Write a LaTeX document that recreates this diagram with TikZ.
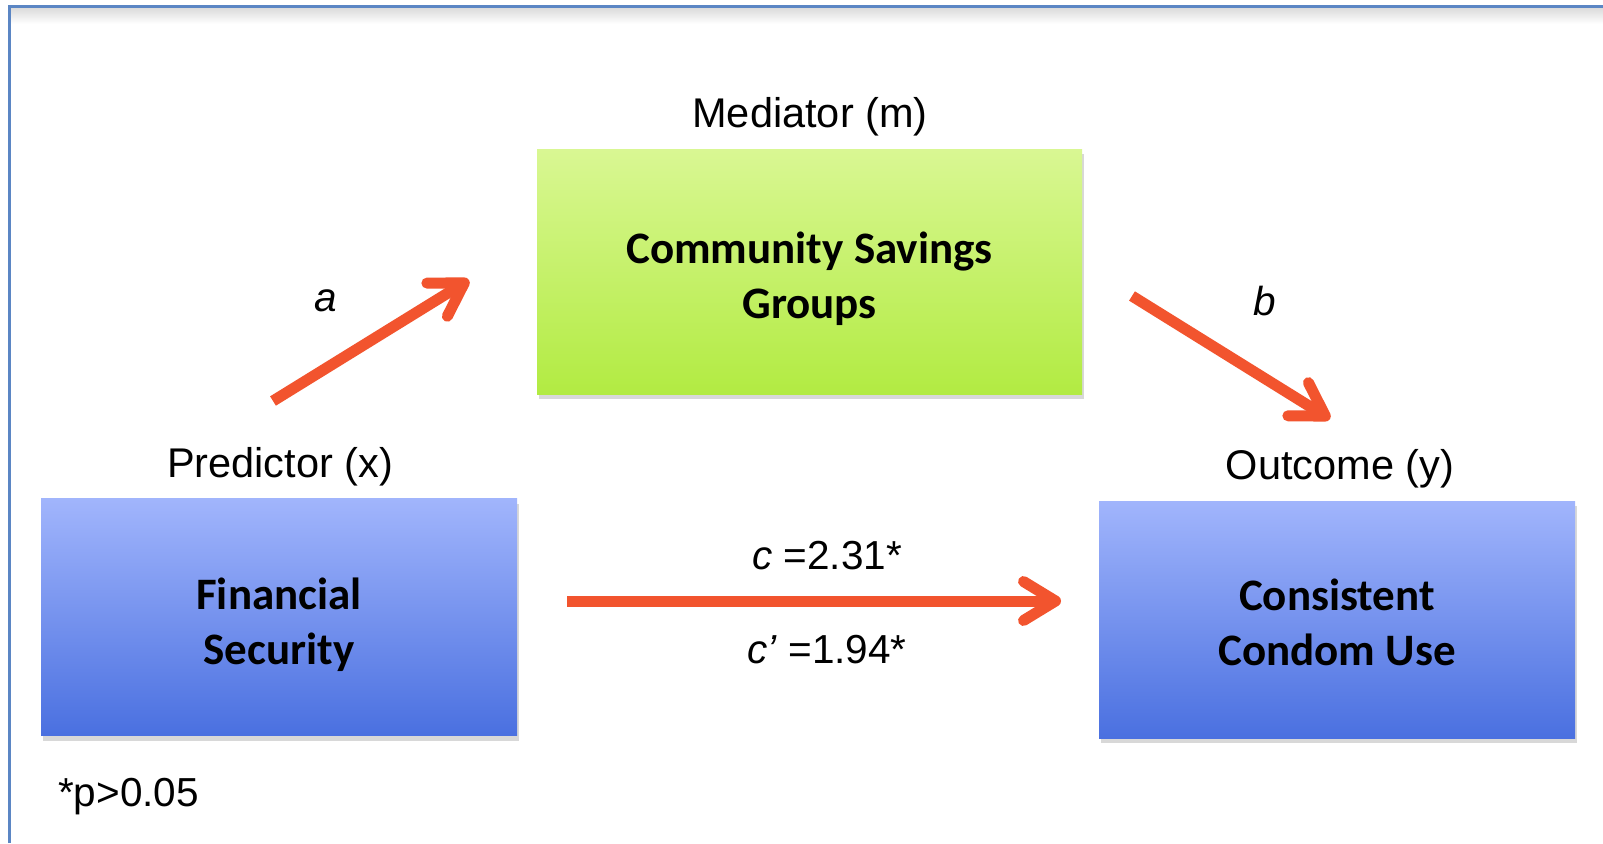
\documentclass[tikz,border=0pt]{standalone}
\usepackage{fontspec}
\setmainfont{Liberation Sans}
\newfontfamily\boxfont{Carlito}
\usetikzlibrary{arrows.meta,shadows}

\definecolor{arrowred}{HTML}{F2542E}
\definecolor{greentop}{HTML}{D9F793}
\definecolor{greenbot}{HTML}{B2EB42}
\definecolor{bluetop}{HTML}{A1B5FC}
\definecolor{bluebot}{HTML}{4A70E0}
\definecolor{frameblue}{HTML}{5B86C4}

\tikzset{
  pathbox/.style={minimum width=476pt, minimum height=237pt, inner sep=0pt,
    drop shadow={shadow xshift=2pt, shadow yshift=-5pt, opacity=0.25, fill=black!60}},
  bluebox/.style={pathbox, top color=bluetop, bottom color=bluebot},
  greenbox/.style={pathbox, minimum width=545pt, minimum height=245pt,
    top color=greentop, bottom color=greenbot},
  boxtext/.style={align=center, inner sep=0pt,
    font=\boxfont\bfseries\fontsize{45}{55}\selectfont},
  varlabel/.style={font=\fontsize{41.5}{48}\selectfont, inner sep=0pt},
  pathlabel/.style={font=\fontsize{40.5}{46}\selectfont, inner sep=0pt},
  patharrow/.style={draw=arrowred, line width=11pt,
    -{Straight Barb[length=32pt, width=39pt, line cap=round, line join=round]}}
}

\begin{document}
\begin{tikzpicture}[x=1pt, y=-1pt]
  \useasboundingbox (0,0) rectangle (1603,843);
  \fill[white] (0,0) rectangle (1603,843);
  \shade[top color=black!14, bottom color=white] (9,8) rectangle (1603,24);
  \draw[frameblue, line width=3pt] (9,843) -- (9,7) -- (1603,7);

  \node (med) [greenbox] at (809.5,271.5) {};
  \node (pred) [bluebox] at (279,617) {};
  \node (outc) [bluebox] at (1337,619.5) {};
  \node (medtext) [boxtext] at ([yshift=-7pt]med.center) {Community Savings\\Groups};
  \node (predtext) [boxtext] at ([yshift=-7.5pt]pred.center) {Financial\\Security};
  \node (outctext) [boxtext] at ([yshift=-3pt]outc.center) {Consistent\\Condom Use};

  \node (medlab) [varlabel] at (810,117) {Mediator (m)};
  \node (predlab) [varlabel] at (280,467) {Predictor (x)};
  \node (outclab) [varlabel] at (1340,469) {Outcome (y)};

  \coordinate (astart) at (273,401);
  \coordinate (aend) at (469,280);
  \coordinate (bstart) at (1132,296);
  \coordinate (bend) at (1330,419);
  \coordinate (cstart) at (567,601);
  \coordinate (cend) at (1061,601);

  \draw[patharrow] (astart) -- (aend);
  \draw[patharrow] (bstart) -- (bend);
  \draw[patharrow] (cstart) -- (cend);

  \node (alab) [pathlabel] at (326,301) {\textit{a}};
  \node (blab) [pathlabel] at (1265,301) {\textit{b}};
  \node (ctot) [pathlabel] at (827,556) {\textit{c} =2.31*};
  \node (cdir) [pathlabel] at (827,650) {\textit{c’} =1.94*};
  \node (note) [pathlabel, anchor=west] at (58,797) {*p>0.05};
\end{tikzpicture}
\end{document}
